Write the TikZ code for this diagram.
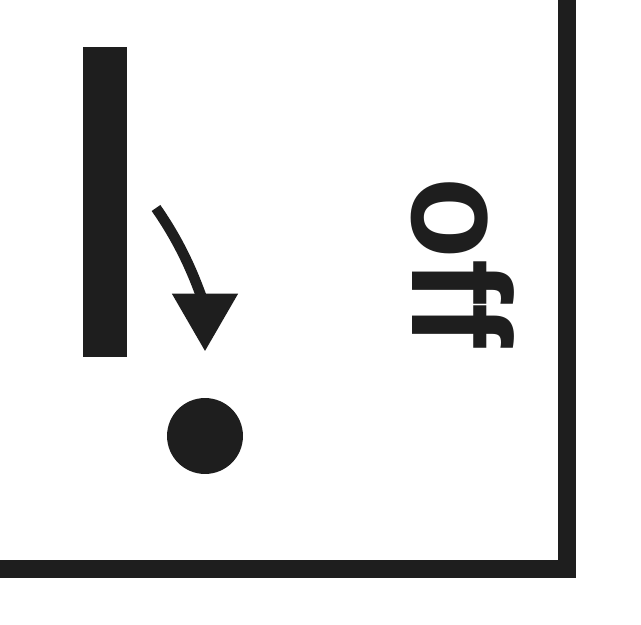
\documentclass[tikz,border=0pt]{standalone}
\usepackage{fontspec}
\setmainfont{Liberation Sans}
\usetikzlibrary{arrows.meta}
\definecolor{ink}{HTML}{1E1E1E}

\begin{document}
\begin{tikzpicture}[x=0.025cm,y=-0.025cm,>={Triangle[length=41pt,width=45pt]},
  frame/.style={draw=ink,line width=13pt},
  barsym/.style={rectangle,fill=ink,inner sep=0pt,minimum width=31pt,minimum height=220pt},
  dotsym/.style={circle,fill=ink,inner sep=0pt,minimum size=54pt},
  lbl/.style={font=\fontsize{100}{100}\bfseries\selectfont,text=ink,inner sep=0pt,rotate=-90,xscale=0.95}]
\useasboundingbox (0,0) rectangle (641,625);

% switch symbol
\node[barsym] (bar) at (105,202) {};
\node[dotsym] (dot) at (205,436) {};
\coordinate (from) at (156,208);
\draw[->,ink,line width=7.5pt,shorten >=33pt] (from) to[out=-55,in=90] (dot.north);

\node[lbl] (off) at (463,263) {off};

% panel edge
\draw[frame] (567,-20) -- (567,569) -- (-20,569);

\end{tikzpicture}
\end{document}
